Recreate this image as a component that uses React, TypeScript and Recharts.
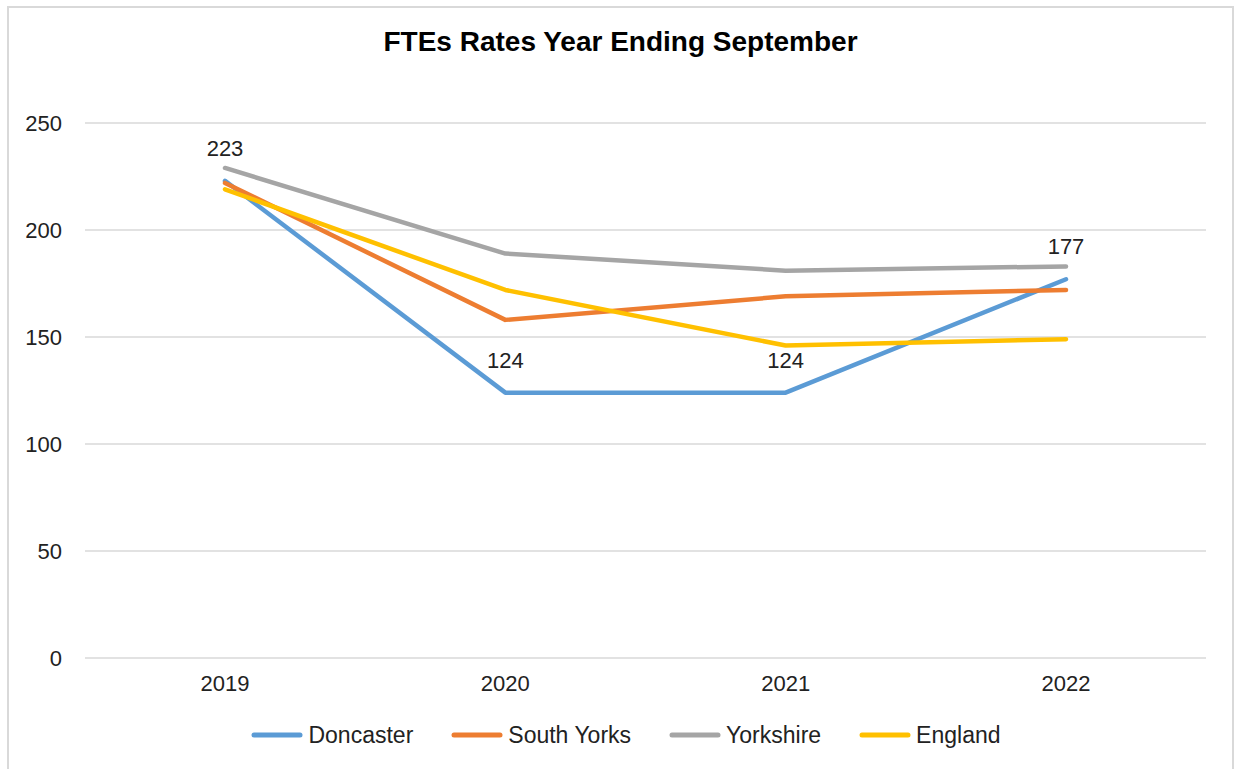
import {
  LineChart,
  Line,
  XAxis,
  YAxis,
  CartesianGrid,
  Legend,
  LabelList,
} from "recharts";

const years = ["2019", "2020", "2021", "2022"];
const doncaster = [223, 124, 124, 177];
const southYorks = [222, 158, 169, 172];
const yorkshire = [229, 189, 181, 183];
const england = [219, 172, 146, 149];
const yTicks = [0, 50, 100, 150, 200, 250];

const seriesList = [
  { key: "Doncaster", values: doncaster, color: "#5B9BD5" },
  { key: "South Yorks", values: southYorks, color: "#ED7D31" },
  { key: "Yorkshire", values: yorkshire, color: "#A5A5A5" },
  { key: "England", values: england, color: "#FFC000" },
];

const data = years.map((year, i) => {
  const row: { [key: string]: string | number } = { name: year };
  seriesList.forEach((s) => {
    row[s.key] = s.values[i];
  });
  return row;
});

const FONT = "'Liberation Sans', Arial, sans-serif";

// legend drawn to look like the Excel one: long round-capped line + label
const renderLegend = () => (
  <div
    style={{
      display: "flex",
      justifyContent: "center",
      alignItems: "center",
      height: 60,
      paddingLeft: 37,
      paddingBottom: 12,
      boxSizing: "border-box",
      fontFamily: FONT,
      fontSize: 23,
      color: "#222",
    }}
  >
    {seriesList.map((s) => (
      <div
        key={s.key}
        style={{ display: "flex", alignItems: "center", margin: "0 19px" }}
      >
        <svg width={52} height={10} style={{ marginRight: 5 }}>
          <line
            x1={3}
            y1={5}
            x2={49}
            y2={5}
            stroke={s.color}
            strokeWidth={5}
            strokeLinecap="round"
          />
        </svg>
        <span>{s.key}</span>
      </div>
    ))}
  </div>
);

const App = () => {
  return (
    <div
      style={{
        position: "absolute",
        left: 7,
        top: 6,
        width: 1223,
        height: 763,
        border: "2px solid #d9d9d9",
        background: "#fff",
        fontFamily: FONT,
      }}
    >
      <div
        style={{
          position: "absolute",
          top: 20,
          left: 0,
          width: "100%",
          textAlign: "center",
          fontSize: 28,
          lineHeight: "28px",
          fontWeight: "bold",
          color: "#000",
        }}
      >
        FTEs Rates Year Ending September
      </div>
      <LineChart
        width={1223}
        height={763}
        data={data}
        margin={{ top: 115, right: 26, left: 0, bottom: 0 }}
      >
        <CartesianGrid
          horizontal={true}
          vertical={false}
          stroke="#d9d9d9"
          strokeWidth={1.5}
        />
        <XAxis
          dataKey="name"
          axisLine={false}
          tickLine={false}
          tickSize={0}
          tickMargin={17}
          height={53}
          padding={{ left: 140, right: 140 }}
          tick={{ fontSize: 22, fill: "#222", fontFamily: FONT }}
        />
        <YAxis
          domain={[0, 250]}
          ticks={yTicks}
          axisLine={false}
          tickLine={false}
          tickSize={0}
          tickMargin={23}
          width={76}
          tick={{ fontSize: 22, fill: "#222", fontFamily: FONT }}
        />
        <Legend verticalAlign="bottom" height={60} content={renderLegend} />
        {seriesList.map((s) => (
          <Line
            key={s.key}
            type="linear"
            dataKey={s.key}
            stroke={s.color}
            strokeWidth={4.5}
            strokeLinecap="round"
            strokeLinejoin="round"
            dot={false}
            activeDot={false}
            isAnimationActive={false}
          >
            {s.key === "Doncaster" && (
              <LabelList
                dataKey={s.key}
                position="top"
                offset={25}
                style={{ fontSize: 22, fill: "#222", fontFamily: FONT }}
              />
            )}
          </Line>
        ))}
      </LineChart>
    </div>
  );
};

export default App;
